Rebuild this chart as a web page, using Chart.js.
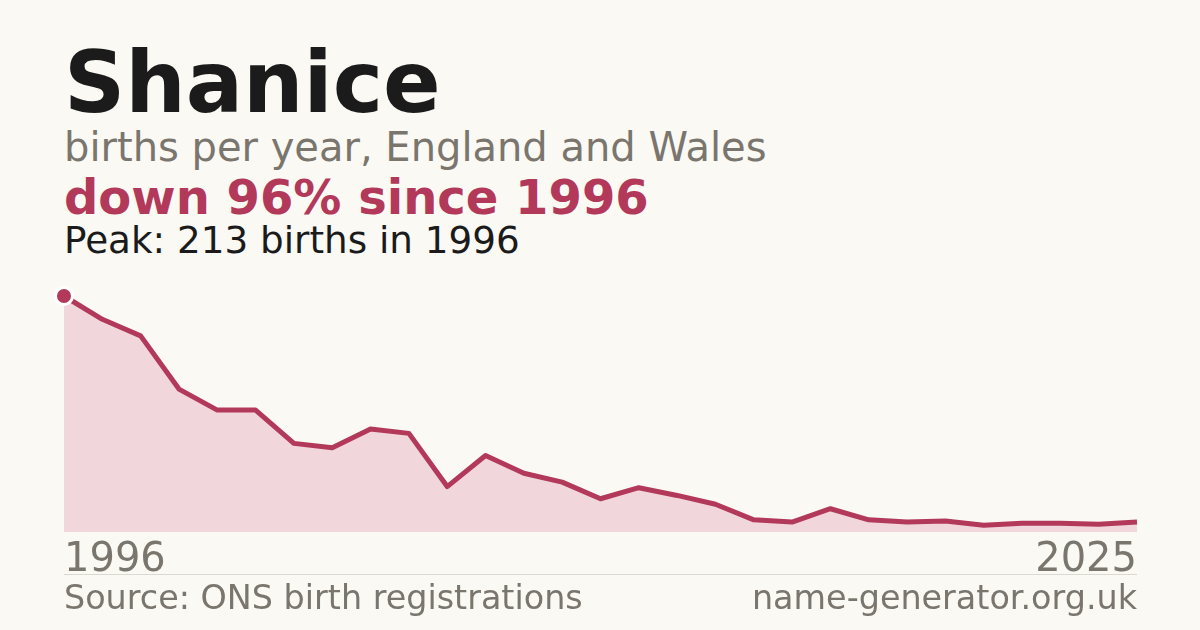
<!DOCTYPE html>
<html>
<head>
<meta charset="utf-8">
<script src="https://cdn.jsdelivr.net/npm/chart.js@4"></script>
<style>
  html, body { margin: 0; padding: 0; }
  body { width: 1200px; height: 630px; background: #faf9f4; position: relative; overflow: hidden; font-family: "DejaVu Sans", sans-serif; }
  .t { position: absolute; left: 64px; white-space: nowrap; line-height: 1; }
  #title { top: 40px; font-size: 85px; font-weight: bold; color: #1b1b1b; }
  #sub { top: 127px; font-size: 40px; color: #7a766e; }
  #change { top: 173px; font-size: 48px; font-weight: bold; color: #b3395a; }
  #peak { top: 222px; font-size: 37.3px; color: #1b1b1b; }
  #rule { position: absolute; left: 64px; top: 574px; width: 1073px; height: 1px; background: #dcd9d2; }
  #source { top: 581px; font-size: 33.4px; color: #7a766e; }
  #site { top: 581px; left: auto; right: 63px; font-size: 33.4px; color: #7a766e; }
  #wrap { position: absolute; left: 50px; top: 282px; width: 1101px; height: 308px; }
</style>
</head>
<body>
<div class="t" id="title">Shanice</div>
<div class="t" id="sub">births per year, England and Wales</div>
<div class="t" id="change">down 96% since 1996</div>
<div class="t" id="peak">Peak: 213 births in 1996</div>
<div id="wrap"><canvas id="chart"></canvas></div>
<div id="rule"></div>
<div class="t" id="source">Source: ONS birth registrations</div>
<div class="t" id="site">name-generator.org.uk</div>
<script>
const years = [1996, 1997, 1998, 1999, 2000, 2001, 2002, 2003, 2004, 2005,
               2006, 2007, 2008, 2009, 2010, 2011, 2012, 2013, 2014, 2015,
               2016, 2017, 2018, 2019, 2020, 2021, 2022, 2023, 2024];
const births = [213, 192, 177, 129, 110, 110, 80, 76, 93, 89,
                41, 69, 53, 45, 30, 40, 33, 25, 11, 9,
                21, 11, 9, 10, 6, 8, 8, 7, 9];
const xTickLabels = ['1996', '2025'];

const red = '#b3395a';
const ctx = document.getElementById('chart').getContext('2d');
new Chart(ctx, {
    type: 'line',
    data: {
        labels: years,
        datasets: [{
            data: births,
            clip: false,
            borderColor: red,
            borderWidth: 5,
            backgroundColor: '#f1d6dc',
            fill: 'origin',
            tension: 0,
            borderJoinStyle: 'round',
            pointRadius: c => c.dataIndex === 0 ? 8.5 : 0,
            pointBackgroundColor: red,
            pointBorderColor: '#ffffff',
            pointBorderWidth: 3,
            pointHoverRadius: 0
        }]
    },
    options: {
        responsive: true,
        maintainAspectRatio: false,
        animation: false,
        layout: { padding: { top: 14, left: 14, right: 14, bottom: 0 } },
        plugins: { legend: { display: false }, tooltip: { enabled: false } },
        scales: {
            x: {
                offset: false,
                grid: { display: false, drawTicks: false },
                border: { display: false },
                ticks: {
                    autoSkip: false,
                    maxRotation: 0,
                    align: 'inner',
                    padding: 5,
                    color: '#7a766e',
                    font: { family: 'DejaVu Sans', size: 40 },
                    callback: (v, i, all) => i === 0 ? xTickLabels[0] : (i === all.length - 1 ? xTickLabels[1] : '')
                }
            },
            y: {
                display: false,
                min: 0,
                max: 213
            }
        }
    }
});
</script>
</body>
</html>
